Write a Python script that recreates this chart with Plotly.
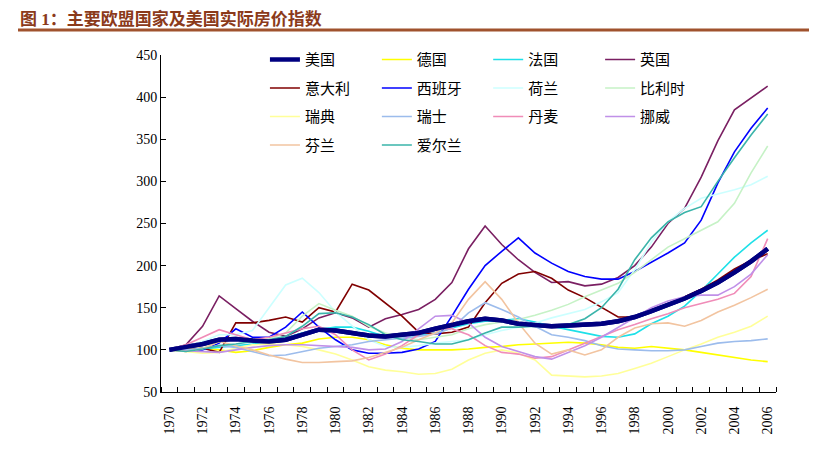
import plotly.graph_objects as go

years = list(range(1970, 2007))

us = [100,103,107,112,113,111,110,112,118,124,123,120,117,116,118,120,125,130,134,137,135,131,130,128,129,130,131,134,139,146,153,161,170,180,192,205,220]
de = [100,101,102,100,97,99,103,106,108,113,115,115,112,106,102,100,100,100,101,103,104,106,107,108,109,108,106,103,102,104,102,100,97,94,91,88,86]
fr = [100,100,101,103,105,107,110,114,120,124,127,127,122,116,113,117,120,126,131,134,135,137,133,128,124,120,116,115,119,131,140,152,170,190,210,227,242]
uk = [100,106,128,164,149,134,121,116,125,138,144,138,127,137,142,148,160,180,220,247,225,207,192,180,181,176,178,186,200,222,250,268,305,348,385,399,413]
it = [100,100,102,97,132,132,135,139,133,150,145,178,171,156,140,121,119,121,127,156,179,190,193,185,171,162,150,139,139,147,154,163,172,183,196,206,214]
es = [100,99,100,108,125,115,115,127,145,127,112,100,96,96,97,101,110,140,172,200,217,233,215,203,193,187,184,184,193,204,215,227,254,298,335,363,387]
nl = [100,104,110,118,118,123,150,177,185,168,145,128,112,104,103,105,108,110,112,118,123,127,132,138,143,148,157,168,195,228,252,268,280,285,290,296,306]
be = [100,98,102,110,114,112,113,120,140,155,147,140,128,120,115,112,115,118,125,130,133,136,141,147,154,163,171,179,192,207,222,232,242,252,274,310,342]
se = [100,98,96,97,102,106,107,106,104,100,95,88,80,76,74,71,72,77,88,96,100,96,88,70,69,68,69,72,78,84,92,100,107,115,121,128,140]
ch = [100,100,102,105,103,98,93,94,98,102,104,106,110,112,114,116,119,126,144,156,148,139,128,118,115,111,105,101,100,99,99,100,104,108,110,111,113]
dk = [100,106,115,124,118,112,115,120,125,128,118,100,88,95,105,118,125,125,118,105,97,95,90,92,100,108,116,124,130,137,143,150,155,160,167,187,232]
no = [100,99,98,97,100,103,105,106,106,105,104,103,100,101,110,125,140,141,132,115,104,98,92,89,97,105,115,127,138,150,158,163,165,165,175,190,213]
fi = [100,98,101,110,105,100,94,89,85,85,86,87,91,97,103,112,120,132,160,181,160,132,108,95,100,94,100,115,126,131,132,128,135,145,153,162,172]
ie = [100,98,101,105,107,110,112,116,128,143,144,139,130,118,112,110,107,107,112,120,127,127,128,127,130,137,150,172,207,233,252,263,270,300,328,355,380]

names = ["美国","德国","法国","英国","意大利","西班牙","荷兰","比利时","瑞典","瑞士","丹麦","挪威","芬兰","爱尔兰"]
series = [us, de, fr, uk, it, es, nl, be, se, ch, dk, no, fi, ie]
colors = ["#000080","#FFFF00","#1EE0E8","#7A1F62","#800000","#0000FF","#CCFFFF","#C6F2C6",
          "#FFFF99","#9CBCEC","#F08CB8","#C090E8","#F2C4A0","#3AB4AA"]
widths = [4.5] + [1.6]*13
legends = ["legend","legend2","legend3","legend4"]

fig = go.Figure()
for i, (n, s) in enumerate(zip(names, series)):
    fig.add_trace(go.Scatter(
        x=years, y=s, name=n, mode="lines",
        line=dict(color=colors[i], width=widths[i]),
        legend=legends[i % 4], legendgroup=n,
    ))

# draw USA again on top without legend
fig.add_trace(go.Scatter(x=years, y=us, mode="lines", showlegend=False,
                         line=dict(color=colors[0], width=widths[0]), hoverinfo="skip"))

legfont = dict(family="Noto Sans CJK SC", size=15, color="black")
lx = [0.169, 0.351, 0.532, 0.714]
common = dict(font=legfont, bgcolor="rgba(0,0,0,0)", borderwidth=0, yanchor="top", y=1.035,
              xanchor="left", tracegroupgap=6, orientation="v")
fig.update_layout(
    legend=dict(x=lx[0], **common),
    legend2=dict(x=lx[1], **common),
    legend3=dict(x=lx[2], **common),
    legend4=dict(x=lx[3], **common),
)

# the page body adds an 8px offset; margins compensate for it
tickfont = dict(family="Liberation Serif", size=14, color="black")
fig.update_layout(
    width=817, height=452,
    margin=dict(l=153, r=49, t=47, b=68, autoexpand=False),
    paper_bgcolor="white", plot_bgcolor="white",
    title=dict(text="<b>图 1：主要欧盟国家及美国实际房价指数</b>",
               font=dict(family="Liberation Serif, Noto Sans CJK SC", size=17, color="#8B3A1A"),
               x=12/817, xref="container", xanchor="left",
               y=1-5/452, yref="container", yanchor="top", pad=dict(t=0, b=0, l=0, r=0)),
    xaxis=dict(range=[1969.5, 2006.5], tickmode="linear", tick0=1970, dtick=2,
               tickangle=-90, ticks="", showline=True, linecolor="black", linewidth=1,
               showgrid=False, zeroline=False, tickfont=tickfont, tickformat="d",
               ticklabelstandoff=8, automargin=False,
               minor=dict(tick0=1969.5, dtick=1, ticks="inside", ticklen=5,
                          tickcolor="black", showgrid=False)),
    yaxis=dict(range=[50, 450], tickmode="linear", tick0=50, dtick=50,
               ticks="inside", ticklen=5, tickcolor="black",
               showline=True, linecolor="black", linewidth=1, automargin=False,
               showgrid=False, zeroline=False, tickfont=tickfont),
    shapes=[dict(type="line", xref="paper", yref="paper",
                 x0=(18-161)/615, x1=(825-161)/615, y0=(392-30)/337, y1=(392-30)/337,
                 line=dict(color="#A0522D", width=3))],
)

fig.write_html("out.html")
